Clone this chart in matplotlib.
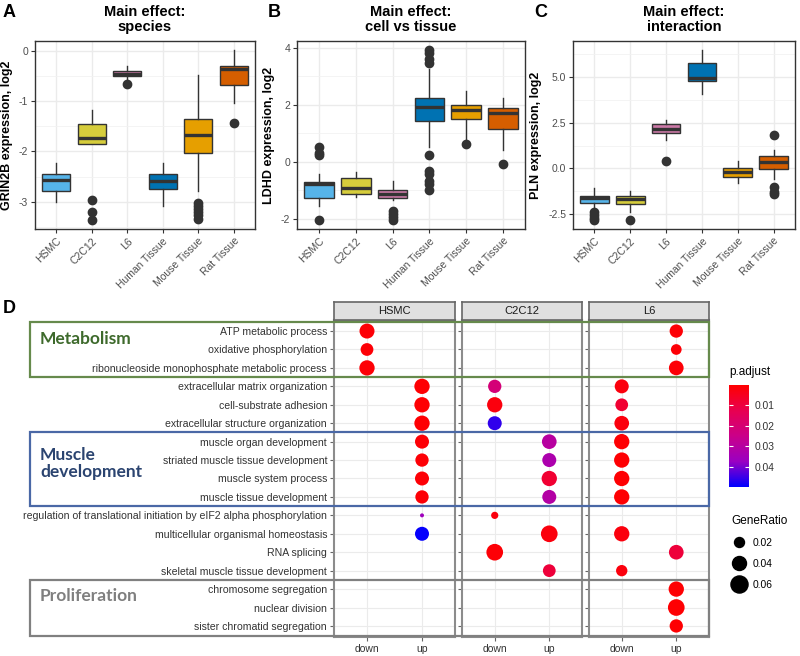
import matplotlib
matplotlib.use("Agg")
import matplotlib.pyplot as plt
import matplotlib.transforms as mtransforms
import numpy as np
from matplotlib.colors import LinearSegmentedColormap, Normalize
from matplotlib.lines import Line2D
from matplotlib.patches import Rectangle
from matplotlib.ticker import MultipleLocator

plt.rcParams['font.family'] = ['Liberation Sans', 'DejaVu Sans']
plt.rcParams['axes.unicode_minus'] = False

# ---------------- data: boxplots (whisker low, q1, median, q3, whisker high) ----------------
groups = ['HSMC', 'C2C12', 'L6', 'Human Tissue', 'Mouse Tissue', 'Rat Tissue']
group_colors = ['#56B4E9', '#D6CD3C', '#CC79A7', '#0072B2', '#E69F00', '#D55E00']

grin2b_box = [[-3.0, -2.79, -2.56, -2.45, -2.23],
              [-1.86, -1.86, -1.74, -1.45, -1.17],
              [-0.57, -0.51, -0.46, -0.41, -0.31],
              [-3.09, -2.74, -2.59, -2.45, -2.23],
              [-2.78, -2.03, -1.68, -1.35, -0.48],
              [-1.05, -0.69, -0.37, -0.31, 0.02]]
grin2b_out = [[], [-2.96, -3.2, -3.37], [-0.67], [],
              [-3.02, -3.08, -3.14, -3.2, -3.27, -3.34], [-1.43]]

ldhd_box = [[-1.53, -1.25, -0.78, -0.70, -0.42],
            [-1.22, -1.11, -0.93, -0.55, -0.36],
            [-1.34, -1.27, -1.11, -0.99, -0.67],
            [0.54, 1.44, 1.93, 2.25, 3.25],
            [0.77, 1.5, 1.83, 2.0, 2.5],
            [0.43, 1.14, 1.73, 1.89, 2.25]]
ldhd_out = [[0.54, 0.31, 0.23, -2.03], [], [-1.71, -1.82, -1.92, -2.05],
            [3.94, 3.83, 3.6, 3.48, 0.23, -0.32, -0.42, -0.67, -0.78, -0.98],
            [0.63], [-0.07]]

pln_box = [[-2.12, -1.88, -1.63, -1.49, -1.07],
           [-2.39, -1.97, -1.67, -1.49, -1.21],
           [1.56, 1.92, 2.14, 2.46, 2.68],
           [4.08, 4.8, 4.95, 5.8, 6.52],
           [-0.8, -0.49, -0.22, 0.05, 0.42],
           [-0.58, -0.04, 0.33, 0.69, 1.01]]
pln_out = [[-2.39, -2.55, -2.7, -2.85], [-2.81], [0.42], [], [],
           [1.83, -1.03, -1.3, -1.39]]

# ---------------- data: enrichment dot plot ----------------
terms = ['ATP metabolic process',
         'oxidative phosphorylation',
         'ribonucleoside monophosphate metabolic process',
         'extracellular matrix organization',
         'cell-substrate adhesion',
         'extracellular structure organization',
         'muscle organ development',
         'striated muscle tissue development',
         'muscle system process',
         'muscle tissue development',
         'regulation of translational initiation by eIF2 alpha phosphorylation',
         'multicellular organismal homeostasis',
         'RNA splicing',
         'skeletal muscle tissue development',
         'chromosome segregation',
         'nuclear division',
         'sister chromatid segregation']
cells = ['HSMC', 'C2C12', 'L6']
directions = ['down', 'up']

dot_term = [1, 1, 2, 2, 3, 3,
            4, 4, 4, 5, 5, 5, 6, 6, 6,
            7, 7, 7, 8, 8, 8, 9, 9, 9, 10, 10, 10,
            11, 11, 12, 12, 12, 13, 13, 14, 14,
            15, 16, 17]
dot_cell = ['HSMC', 'L6', 'HSMC', 'L6', 'HSMC', 'L6',
            'HSMC', 'C2C12', 'L6', 'HSMC', 'C2C12', 'L6', 'HSMC', 'C2C12', 'L6',
            'HSMC', 'C2C12', 'L6', 'HSMC', 'C2C12', 'L6', 'HSMC', 'C2C12', 'L6', 'HSMC', 'C2C12', 'L6',
            'HSMC', 'C2C12', 'HSMC', 'C2C12', 'L6', 'C2C12', 'L6', 'C2C12', 'L6',
            'L6', 'L6', 'L6']
dot_dir = ['down', 'up', 'down', 'up', 'down', 'up',
           'up', 'down', 'down', 'up', 'down', 'down', 'up', 'down', 'down',
           'up', 'up', 'down', 'up', 'up', 'down', 'up', 'up', 'down', 'up', 'up', 'down',
           'up', 'down', 'up', 'up', 'down', 'down', 'up', 'up', 'down',
           'up', 'up', 'up']
gene_ratio = [0.046, 0.036, 0.033, 0.023, 0.048, 0.044,
              0.048, 0.036, 0.040, 0.048, 0.048, 0.033, 0.048, 0.040, 0.044,
              0.040, 0.044, 0.048, 0.036, 0.040, 0.048, 0.040, 0.048, 0.048, 0.036, 0.040, 0.048,
              0.0025, 0.010, 0.040, 0.057, 0.048, 0.057, 0.044, 0.033, 0.026,
              0.048, 0.057, 0.036]
p_adjust = [0.001, 0.001, 0.001, 0.001, 0.001, 0.001,
            0.0005, 0.021, 0.002, 0.0005, 0.002, 0.008, 0.0005, 0.046, 0.002,
            0.001, 0.030, 0.0005, 0.001, 0.033, 0.0005, 0.001, 0.008, 0.0005, 0.001, 0.031, 0.0005,
            0.036, 0.002, 0.0495, 0.002, 0.002, 0.001, 0.009, 0.009, 0.002,
            0.0005, 0.0005, 0.0005]
legend_ratios = [0.02, 0.04, 0.06]
p_ticks = [0.01, 0.02, 0.03, 0.04]


def ratio_to_diam_px(r):
    return np.sqrt(4 + 4800 * np.asarray(r, dtype=float))


fig = plt.figure(figsize=(8, 6.56), dpi=100)
W, H = 800, 656


def px_axes(x0, y0, x1, y1):
    return fig.add_axes([x0 / W, 1 - y1 / H, (x1 - x0) / W, (y1 - y0) / H])


# ---------------- panels A-C ----------------
box_panels = [
    ('A', (35, 255), 'Main effect:\nspecies', 'GRIN2B expression, log2',
     grin2b_box, grin2b_out, [0, -1, -2, -3], 0.5, '{:.0f}', 3),
    ('B', (297, 525), 'Main effect:\ncell vs tissue', 'LDHD expression, log2',
     ldhd_box, ldhd_out, [4, 2, 0, -2], 1.0, '{:.0f}', 268),
    ('C', (573, 795), 'Main effect:\ninteraction', 'PLN expression, log2',
     pln_box, pln_out, [5, 2.5, 0, -2.5], 1.25, '{:.1f}', 534),
]

for letter, (x0, x1), title, ylab, boxes, outs, yt, minor, fmt, lx in box_panels:
    ax = px_axes(x0, 41, x1, 229)
    stats = []
    for g, (lo, q1, med, q3, hi), fl in zip(groups, boxes, outs):
        stats.append(dict(label=g, whislo=lo, q1=q1, med=med, q3=q3, whishi=hi, fliers=fl))
    bp = ax.bxp(stats, positions=range(1, 7), widths=0.8, patch_artist=True,
                showcaps=False,
                boxprops=dict(edgecolor='#333333', linewidth=1.0),
                medianprops=dict(color='#333333', linewidth=2.4),
                whiskerprops=dict(color='#333333', linewidth=1.0),
                flierprops=dict(marker='o', markerfacecolor='#333333',
                                markeredgecolor='#333333', markersize=6))
    for patch, c in zip(bp['boxes'], group_colors):
        patch.set_facecolor(c)
    vals = np.concatenate([np.ravel(boxes)] + [np.array(o) for o in outs if o])
    span = vals.max() - vals.min()
    ax.set_ylim(vals.min() - 0.05 * span, vals.max() + 0.05 * span)
    ax.set_xlim(0.4, 6.6)
    ax.set_yticks(yt)
    ax.set_yticklabels([fmt.format(v) for v in yt])
    ax.yaxis.set_minor_locator(MultipleLocator(minor))
    ax.set_xticks(range(1, 7))
    ax.set_xticklabels(groups, rotation=45, ha='right', rotation_mode='anchor')
    ax.set_axisbelow(True)
    ax.grid(which='major', color='#EBEBEB', linewidth=1.0)
    ax.grid(which='minor', axis='y', color='#F2F2F2', linewidth=0.6)
    ax.tick_params(which='major', direction='out', length=3, color='#333333',
                   labelsize=7.5, labelcolor='#4D4D4D', pad=2)
    ax.tick_params(which='minor', length=0)
    for s in ax.spines.values():
        s.set_color('#333333')
        s.set_linewidth(1.0)
    ax.set_ylabel(ylab, fontsize=9, fontweight='bold', labelpad=4)
    ax.set_title(title, fontsize=10.5, fontweight='bold', pad=7, linespacing=1.1)
    fig.text(lx / W, 1 - 4 / H, letter, fontsize=13, fontweight='bold', va='top', ha='left')

# ---------------- panel D ----------------
cmap = LinearSegmentedColormap.from_list(
    'padj', [(0.0, '#FF0000'), (0.25, '#E80050'), (0.5, '#CA0089'),
             (0.75, '#9A00C2'), (1.0, '#0000FF')])
norm = Normalize(vmin=0.0, vmax=0.05)

facet_px = [(334, 455), (462, 582), (589, 709)]
dot_axes = []
sc = None
for cell, (x0, x1) in zip(cells, facet_px):
    ax = px_axes(x0, 320, x1, 637)
    idx = [i for i, c in enumerate(dot_cell) if c == cell]
    xs = [directions.index(dot_dir[i]) + 1 for i in idx]
    ys = [dot_term[i] for i in idx]
    sizes = (ratio_to_diam_px([gene_ratio[i] for i in idx]) * 0.72) ** 2
    sc = ax.scatter(xs, ys, s=sizes, c=[p_adjust[i] for i in idx], cmap=cmap, norm=norm,
                    linewidths=0, zorder=3)
    ax.set_xlim(0.4, 2.6)
    ax.set_ylim(17.6, 0.4)
    ax.set_xticks([1, 2])
    ax.set_xticklabels(directions)
    ax.set_yticks(range(1, len(terms) + 1))
    if cell == 'HSMC':
        ax.set_yticklabels(terms)
    else:
        ax.set_yticklabels([])
        ax.tick_params(axis='y', length=0)
    ax.set_axisbelow(True)
    ax.grid(color='#EBEBEB', linewidth=0.8)
    ax.tick_params(direction='out', length=3, color='#666666', labelsize=7.6,
                   labelcolor='#333333', pad=2)
    ax.tick_params(axis='x', labelsize=7.5)
    for s in ax.spines.values():
        s.set_color('#8C8C8C')
        s.set_linewidth(1.5)
    dot_axes.append(ax)

    strip = px_axes(x0, 302, x1, 320)
    strip.set_facecolor('#E0E0E0')
    strip.set_xticks([])
    strip.set_yticks([])
    for s in strip.spines.values():
        s.set_color('#666666')
        s.set_linewidth(1.2)
    strip.text(0.5, 0.5, cell, ha='center', va='center', fontsize=8, color='#1A1A1A',
               transform=strip.transAxes)

fig.text(3 / W, 1 - 300 / H, 'D', fontsize=13, fontweight='bold', va='top', ha='left')

# highlighted term groups
trans = mtransforms.blended_transform_factory(fig.transFigure, dot_axes[0].transData)
group_boxes = [('Metabolism', 0.5, 3.5, '#668A4C', '#3E6A2C', 1.45),
               ('Muscle\ndevelopment', 6.5, 10.5, '#4A68A6', '#2B4470', 8.2),
               ('Proliferation', 14.5, 17.55, '#808080', '#7F7F7F', 15.4)]
for name, y0, y1, edge, tcol, ty in group_boxes:
    fig.add_artist(Rectangle((30 / W, y0), (709 - 30) / W, y1 - y0, transform=trans,
                             fill=False, edgecolor=edge, linewidth=1.6, zorder=5))
    fig.text(40 / W, ty, name, transform=trans, fontsize=12.5, fontweight='bold',
             family=['Lato', 'DejaVu Sans'], color=tcol, va='center', ha='left',
             linespacing=1.1, zorder=6)

# p.adjust colorbar
fig.text(729 / W, 1 - 372 / H, 'p.adjust', fontsize=8.5, va='center', ha='left')
cax = px_axes(729, 385, 749, 487)
cb = fig.colorbar(sc, cax=cax)
cb.outline.set_visible(False)
cax.invert_yaxis()
cb.set_ticks(p_ticks)
cb.set_ticklabels(['{:.2f}'.format(t) for t in p_ticks])
cax.tick_params(direction='in', length=3, color='white', labelsize=7.4,
                labelcolor='#333333', left=True, pad=4)

# GeneRatio legend
handles = [Line2D([], [], marker='o', linestyle='', markerfacecolor='black',
                  markeredgecolor='black', markersize=float(ratio_to_diam_px(r)) * 0.72)
           for r in legend_ratios]
leg = fig.legend(handles, ['{:.2f}'.format(r) for r in legend_ratios], title='GeneRatio',
                 loc='upper left', bbox_to_anchor=(726 / W, 1 - 510 / H), frameon=False,
                 fontsize=7.4, title_fontsize=8.5, labelspacing=1.05, handletextpad=0.5,
                 borderpad=0, alignment='left', handlelength=1.6)

fig.savefig('out.png', dpi=100)
